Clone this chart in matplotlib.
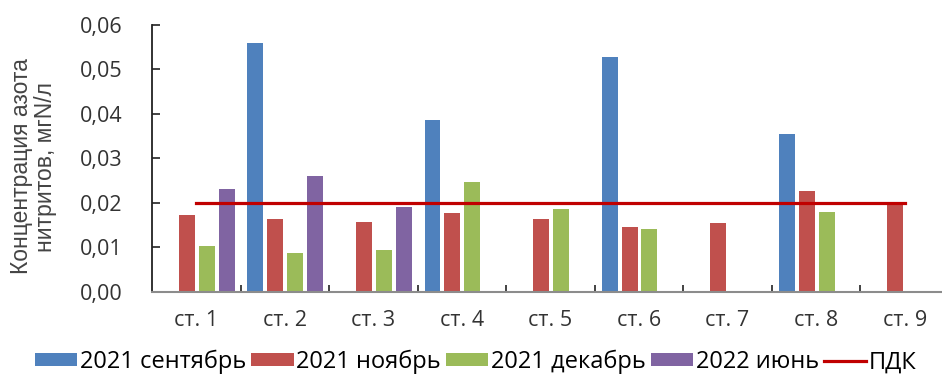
import numpy as np
import matplotlib
matplotlib.use("Agg")
import matplotlib.pyplot as plt
from matplotlib.ticker import FixedLocator, FuncFormatter

stations = ["ст. 1", "ст. 2", "ст. 3", "ст. 4", "ст. 5", "ст. 6", "ст. 7", "ст. 8", "ст. 9"]
nan = np.nan
sep_2021 = [nan, 0.0559, nan, 0.0387, nan, 0.0527, nan, 0.0354, nan]
nov_2021 = [0.0173, 0.0164, 0.0158, 0.0177, 0.0163, 0.0145, 0.0154, 0.0228, 0.0199]
dec_2021 = [0.0103, 0.0087, 0.0094, 0.0248, 0.0187, 0.0141, nan, 0.0180, nan]
jun_2022 = [0.0231, 0.0261, 0.0190, nan, nan, nan, nan, nan, nan]
pdk = [0.02] * 9

series = [
    ("2021 сентябрь", sep_2021, "#4F81BD"),
    ("2021 ноябрь", nov_2021, "#C0504D"),
    ("2021 декабрь", dec_2021, "#9BBB59"),
    ("2022 июнь", jun_2022, "#8064A2"),
]

plt.rcParams["font.family"] = ["Open Sans", "DejaVu Sans"]

fig = plt.figure(figsize=(9.42, 3.81), dpi=100)
ax = fig.add_axes([0.1614, 0.2336, 0.8460, 0.7008])

x = np.arange(len(stations))
step, width = 0.225, 0.18
handles = []
for i, (name, vals, color) in enumerate(series):
    h = ax.bar(x + (i - 1.5) * step + 0.005, vals, width, color=color, label=name, zorder=2)
    handles.append(h)
line, = ax.plot(x, pdk, color="#C00000", lw=2.3, label="ПДК", zorder=3)
handles.append(line)

ax.set_xlim(-0.5, len(stations) - 0.5)
ax.set_ylim(0, 0.06)
ax.set_yticks(np.arange(0, 0.061, 0.01))
ax.yaxis.set_major_formatter(FuncFormatter(lambda v, _: f"{v:.2f}".replace(".", ",")))
ax.set_xticks(x)
ax.set_xticklabels(stations)
ax.xaxis.set_minor_locator(FixedLocator(x[:-1] + 0.5))

ax.tick_params(axis="x", which="major", length=0, pad=13, labelsize=15.5, colors="#333333")
ax.tick_params(axis="x", which="minor", direction="in", length=5, width=1.2, color="#222222")
ax.tick_params(axis="y", direction="in", length=6, width=1.2, color="#222222",
               pad=21, labelsize=15.5, labelcolor="#333333")

for s in ("top", "right"):
    ax.spines[s].set_visible(False)
ax.spines["left"].set_color("#222222")
ax.spines["left"].set_linewidth(1.3)
ax.spines["bottom"].set_color("#8C8C8C")
ax.spines["bottom"].set_linewidth(1.5)

ax.set_ylabel("Концентрация азота\nнитритов, мгN/л", fontsize=16.5,
              family=["Liberation Sans", "DejaVu Sans"], color="#444444",
              linespacing=1.05)
ax.yaxis.set_label_coords(-0.119, 0.47)

fig.legend(handles=handles, loc="center", bbox_to_anchor=(0.505, 0.05), ncol=5,
           frameon=False, fontsize=17, handlelength=1.8, handleheight=0.5,
           handletextpad=0.1, columnspacing=0.22, borderaxespad=0)

fig.savefig("out.png", dpi=100)
